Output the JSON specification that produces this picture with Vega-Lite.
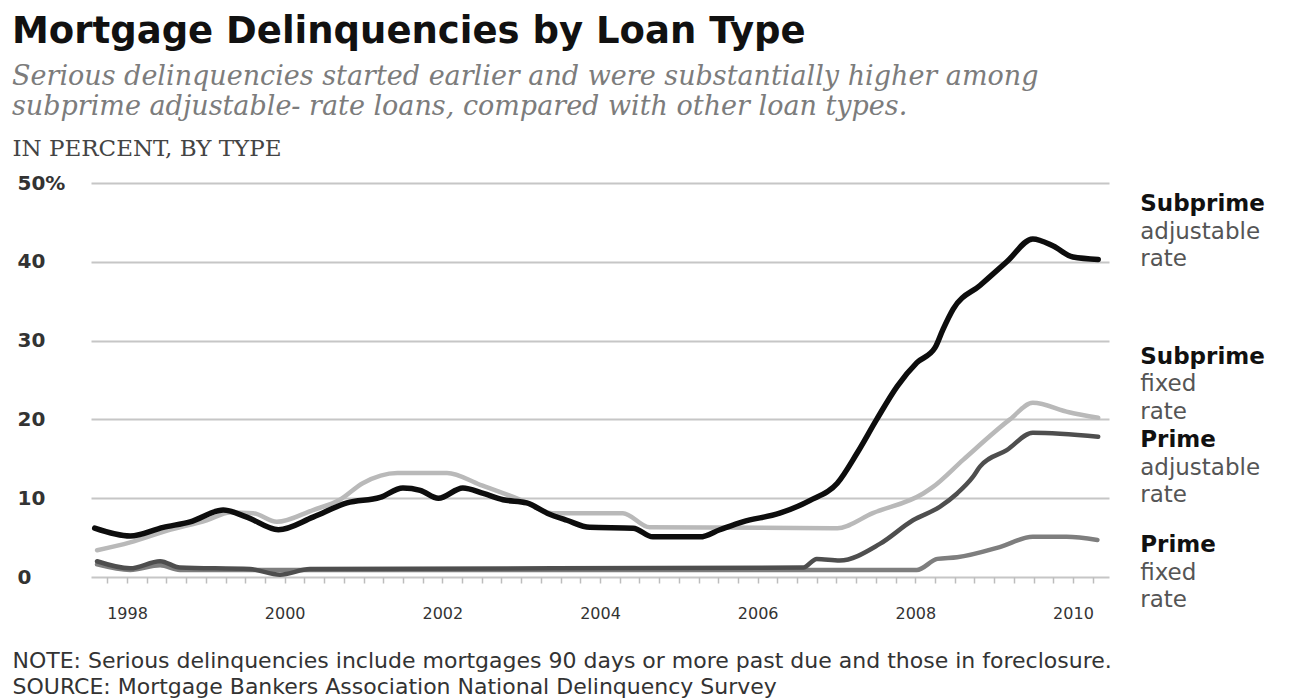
{
  "$schema": "https://vega.github.io/schema/vega-lite/v6.json",
  "width": 1018,
  "height": 394,
  "autosize": {"type": "none"},
  "padding": {"left": 91, "top": 183, "right": 183, "bottom": 123},
  "background": "white",
  "config": {"view": {"stroke": null}},
  "title": {
    "text": "Mortgage Delinquencies by Loan Type",
    "subtitle": ["Serious delinquencies started earlier and were substantially higher among", "subprime adjustable- rate loans, compared with other loan types."],
    "anchor": "start",
    "frame": "group",
    "dx": -79,
    "offset": 16,
    "font": "DejaVu Sans",
    "fontSize": 37,
    "fontWeight": "bold",
    "color": "#111111",
    "subtitleFont": "DejaVu Serif",
    "subtitleFontStyle": "italic",
    "subtitleFontSize": 27,
    "subtitleColor": "#7c7c7c",
    "subtitleLineHeight": 30,
    "subtitlePadding": 13
  },
  "datasets": {
    "lines": [
      {"s": "Prime fixed", "t": 1997.62, "v": 1.6},
      {"s": "Prime fixed", "t": 1998.04, "v": 0.9},
      {"s": "Prime fixed", "t": 1998.42, "v": 1.5},
      {"s": "Prime fixed", "t": 1998.67, "v": 0.9},
      {"s": "Prime fixed", "t": 2008.02, "v": 0.9},
      {"s": "Prime fixed", "t": 2008.28, "v": 2.3},
      {"s": "Prime fixed", "t": 2008.53, "v": 2.5},
      {"s": "Prime fixed", "t": 2009.07, "v": 3.8},
      {"s": "Prime fixed", "t": 2009.49, "v": 5.1},
      {"s": "Prime fixed", "t": 2009.92, "v": 5.1},
      {"s": "Prime fixed", "t": 2010.31, "v": 4.7},
      {"s": "Prime ARM", "t": 1997.62, "v": 2.0},
      {"s": "Prime ARM", "t": 1998.04, "v": 1.1},
      {"s": "Prime ARM", "t": 1998.42, "v": 2.0},
      {"s": "Prime ARM", "t": 1998.67, "v": 1.2},
      {"s": "Prime ARM", "t": 1999.56, "v": 1.0},
      {"s": "Prime ARM", "t": 1999.94, "v": 0.3},
      {"s": "Prime ARM", "t": 2000.32, "v": 1.0},
      {"s": "Prime ARM", "t": 2006.58, "v": 1.2},
      {"s": "Prime ARM", "t": 2006.75, "v": 2.3},
      {"s": "Prime ARM", "t": 2007.04, "v": 2.1},
      {"s": "Prime ARM", "t": 2007.55, "v": 4.2},
      {"s": "Prime ARM", "t": 2007.97, "v": 7.2},
      {"s": "Prime ARM", "t": 2008.31, "v": 8.9},
      {"s": "Prime ARM", "t": 2008.53, "v": 10.6},
      {"s": "Prime ARM", "t": 2008.73, "v": 12.7},
      {"s": "Prime ARM", "t": 2008.82, "v": 14.0},
      {"s": "Prime ARM", "t": 2009.16, "v": 16.1},
      {"s": "Prime ARM", "t": 2009.49, "v": 18.3},
      {"s": "Prime ARM", "t": 2010.32, "v": 17.8},
      {"s": "Subprime fixed", "t": 1997.62, "v": 3.4},
      {"s": "Subprime fixed", "t": 1998.04, "v": 4.4},
      {"s": "Subprime fixed", "t": 1998.51, "v": 5.9},
      {"s": "Subprime fixed", "t": 1999.01, "v": 7.2},
      {"s": "Subprime fixed", "t": 1999.31, "v": 8.2},
      {"s": "Subprime fixed", "t": 1999.6, "v": 8.1},
      {"s": "Subprime fixed", "t": 1999.9, "v": 7.0},
      {"s": "Subprime fixed", "t": 2000.36, "v": 8.5},
      {"s": "Subprime fixed", "t": 2000.7, "v": 9.8},
      {"s": "Subprime fixed", "t": 2000.99, "v": 11.9},
      {"s": "Subprime fixed", "t": 2001.43, "v": 13.2},
      {"s": "Subprime fixed", "t": 2002.06, "v": 13.2},
      {"s": "Subprime fixed", "t": 2002.48, "v": 11.7},
      {"s": "Subprime fixed", "t": 2002.99, "v": 9.8},
      {"s": "Subprime fixed", "t": 2003.4, "v": 8.1},
      {"s": "Subprime fixed", "t": 2004.29, "v": 8.1},
      {"s": "Subprime fixed", "t": 2004.63, "v": 6.3},
      {"s": "Subprime fixed", "t": 2007.01, "v": 6.2},
      {"s": "Subprime fixed", "t": 2007.46, "v": 8.1},
      {"s": "Subprime fixed", "t": 2008.1, "v": 10.6},
      {"s": "Subprime fixed", "t": 2008.22, "v": 11.4},
      {"s": "Subprime fixed", "t": 2008.61, "v": 14.9},
      {"s": "Subprime fixed", "t": 2009.2, "v": 20.0},
      {"s": "Subprime fixed", "t": 2009.49, "v": 22.1},
      {"s": "Subprime fixed", "t": 2009.95, "v": 20.9},
      {"s": "Subprime fixed", "t": 2010.32, "v": 20.2},
      {"s": "Subprime ARM", "t": 1997.59, "v": 6.2},
      {"s": "Subprime ARM", "t": 1998.04, "v": 5.2},
      {"s": "Subprime ARM", "t": 1998.46, "v": 6.3},
      {"s": "Subprime ARM", "t": 1998.8, "v": 7.0},
      {"s": "Subprime ARM", "t": 1999.22, "v": 8.5},
      {"s": "Subprime ARM", "t": 1999.52, "v": 7.6},
      {"s": "Subprime ARM", "t": 1999.92, "v": 6.0},
      {"s": "Subprime ARM", "t": 2000.36, "v": 7.6},
      {"s": "Subprime ARM", "t": 2000.79, "v": 9.4},
      {"s": "Subprime ARM", "t": 2001.21, "v": 10.1},
      {"s": "Subprime ARM", "t": 2001.5, "v": 11.3},
      {"s": "Subprime ARM", "t": 2001.72, "v": 11.0},
      {"s": "Subprime ARM", "t": 2001.95, "v": 10.0},
      {"s": "Subprime ARM", "t": 2002.26, "v": 11.3},
      {"s": "Subprime ARM", "t": 2002.52, "v": 10.6},
      {"s": "Subprime ARM", "t": 2002.77, "v": 9.8},
      {"s": "Subprime ARM", "t": 2003.07, "v": 9.4},
      {"s": "Subprime ARM", "t": 2003.33, "v": 8.1},
      {"s": "Subprime ARM", "t": 2003.58, "v": 7.2},
      {"s": "Subprime ARM", "t": 2003.87, "v": 6.3},
      {"s": "Subprime ARM", "t": 2004.42, "v": 6.2},
      {"s": "Subprime ARM", "t": 2004.67, "v": 5.1},
      {"s": "Subprime ARM", "t": 2005.27, "v": 5.1},
      {"s": "Subprime ARM", "t": 2005.52, "v": 6.0},
      {"s": "Subprime ARM", "t": 2005.81, "v": 7.0},
      {"s": "Subprime ARM", "t": 2006.28, "v": 8.1},
      {"s": "Subprime ARM", "t": 2006.66, "v": 9.7},
      {"s": "Subprime ARM", "t": 2007.01, "v": 11.9},
      {"s": "Subprime ARM", "t": 2007.26, "v": 15.7},
      {"s": "Subprime ARM", "t": 2007.51, "v": 20.0},
      {"s": "Subprime ARM", "t": 2007.77, "v": 24.2},
      {"s": "Subprime ARM", "t": 2008.02, "v": 27.2},
      {"s": "Subprime ARM", "t": 2008.25, "v": 29.1},
      {"s": "Subprime ARM", "t": 2008.35, "v": 31.4},
      {"s": "Subprime ARM", "t": 2008.48, "v": 34.0},
      {"s": "Subprime ARM", "t": 2008.82, "v": 37.0},
      {"s": "Subprime ARM", "t": 2009.16, "v": 40.0},
      {"s": "Subprime ARM", "t": 2009.49, "v": 42.9},
      {"s": "Subprime ARM", "t": 2009.75, "v": 42.0},
      {"s": "Subprime ARM", "t": 2010.0, "v": 40.6},
      {"s": "Subprime ARM", "t": 2010.32, "v": 40.3}
    ],
    "heads": [
      {"name": "Subprime", "t": 2010.32, "v": 47.3},
      {"name": "Subprime", "t": 2010.32, "v": 27.9},
      {"name": "Prime", "t": 2010.32, "v": 17.4},
      {"name": "Prime", "t": 2010.32, "v": 4.0}
    ],
    "rests": [
      {"name": "adjustable", "t": 2010.32, "v": 43.8},
      {"name": "rate", "t": 2010.32, "v": 40.3},
      {"name": "fixed", "t": 2010.32, "v": 24.5},
      {"name": "rate", "t": 2010.32, "v": 20.9},
      {"name": "adjustable", "t": 2010.32, "v": 13.8},
      {"name": "rate", "t": 2010.32, "v": 10.4},
      {"name": "fixed", "t": 2010.32, "v": 0.5},
      {"name": "rate", "t": 2010.32, "v": -2.9}
    ]
  },
  "encoding": {
    "x": {
      "field": "t",
      "type": "quantitative",
      "scale": {"domain": [1997.543, 2010.457], "nice": false, "zero": false},
      "axis": {
        "values": [1997.75,1998,1998.25,1998.5,1998.75,1999,1999.25,1999.5,1999.75,2000,2000.25,2000.5,2000.75,2001,2001.25,2001.5,2001.75,2002,2002.25,2002.5,2002.75,2003,2003.25,2003.5,2003.75,2004,2004.25,2004.5,2004.75,2005,2005.25,2005.5,2005.75,2006,2006.25,2006.5,2006.75,2007,2007.25,2007.5,2007.75,2008,2008.25,2008.5,2008.75,2009,2009.25,2009.5,2009.75,2010,2010.25],
        "labelExpr": "datum.value % 2 == 0 ? format(datum.value, 'd') : ''",
        "labelOverlap": false,
        "labelFlush": false,
        "grid": false,
        "domain": false,
        "ticks": true,
        "tickSize": 6,
        "tickColor": "#bdbdbd",
        "tickWidth": 1.5,
        "labelPadding": 22,
        "labelFont": "DejaVu Sans",
        "labelFontSize": 16,
        "labelColor": "#333333",
        "title": ["NOTE: Serious delinquencies include mortgages 90 days or more past due and those in foreclosure.", "SOURCE: Mortgage Bankers Association National Delinquency Survey"],
        "titleX": -79,
        "titleY": 73,
        "titleAlign": "left",
        "titleAnchor": "start",
        "titleBaseline": "top",
        "titleLineHeight": 26,
        "titleFont": "DejaVu Sans",
        "titleFontSize": 22,
        "titleFontWeight": "normal",
        "titleColor": "#333333"
      }
    },
    "y": {
      "field": "v",
      "type": "quantitative",
      "scale": {"domain": [0, 50], "nice": false},
      "axis": {
        "values": [0, 10, 20, 30, 40, 50],
        "labelExpr": "datum.value == 50 ? '50%' : datum.label",
        "grid": true,
        "gridColor": "#c6c6c6",
        "gridWidth": 2,
        "domain": false,
        "ticks": false,
        "tickSize": 0,
        "labelAlign": "left",
        "labelBaseline": "middle",
        "labelPadding": 74,
        "labelFont": "DejaVu Sans",
        "labelFontWeight": "bold",
        "labelFontSize": 20,
        "labelColor": "#333333",
        "title": "IN PERCENT, BY TYPE",
        "titleAngle": 0,
        "titleAlign": "left",
        "titleBaseline": "middle",
        "titleX": -79,
        "titleY": -35,
        "titleFont": "DejaVu Serif",
        "titleFontWeight": "normal",
        "titleFontSize": 23,
        "titleColor": "#444444"
      }
    }
  },
  "layer": [
    {
      "data": {"name": "lines"},
      "transform": [{"filter": "datum.s != 'Subprime ARM'"}],
      "mark": {"type": "line", "interpolate": "monotone", "strokeWidth": 4.5, "strokeCap": "round", "strokeJoin": "round"},
      "encoding": {
        "color": {
          "field": "s",
          "type": "nominal",
          "scale": {"domain": ["Prime fixed", "Prime ARM", "Subprime fixed", "Subprime ARM"], "range": ["#7e7e7e", "#4e4e4e", "#b9b9b9", "#0d0d0d"]},
          "legend": null
        }
      }
    },
    {
      "data": {"name": "lines"},
      "transform": [{"filter": "datum.s == 'Subprime ARM'"}],
      "mark": {"type": "line", "interpolate": "monotone", "strokeWidth": 5.5, "strokeCap": "round", "strokeJoin": "round"},
      "encoding": {
        "color": {"field": "s", "type": "nominal", "legend": null}
      }
    },
    {
      "data": {"name": "heads"},
      "mark": {"type": "text", "align": "left", "baseline": "middle", "dx": 42, "font": "DejaVu Sans", "fontWeight": "bold", "fontSize": 23, "color": "#111111"},
      "encoding": {
        "x": {"field": "t", "type": "quantitative"},
        "y": {"field": "v", "type": "quantitative"},
        "text": {"field": "name", "type": "nominal"}
      }
    },
    {
      "data": {"name": "rests"},
      "mark": {"type": "text", "align": "left", "baseline": "middle", "dx": 42, "font": "DejaVu Sans", "fontSize": 23, "color": "#555555"},
      "encoding": {
        "x": {"field": "t", "type": "quantitative"},
        "y": {"field": "v", "type": "quantitative"},
        "text": {"field": "name", "type": "nominal"}
      }
    }
  ]
}
